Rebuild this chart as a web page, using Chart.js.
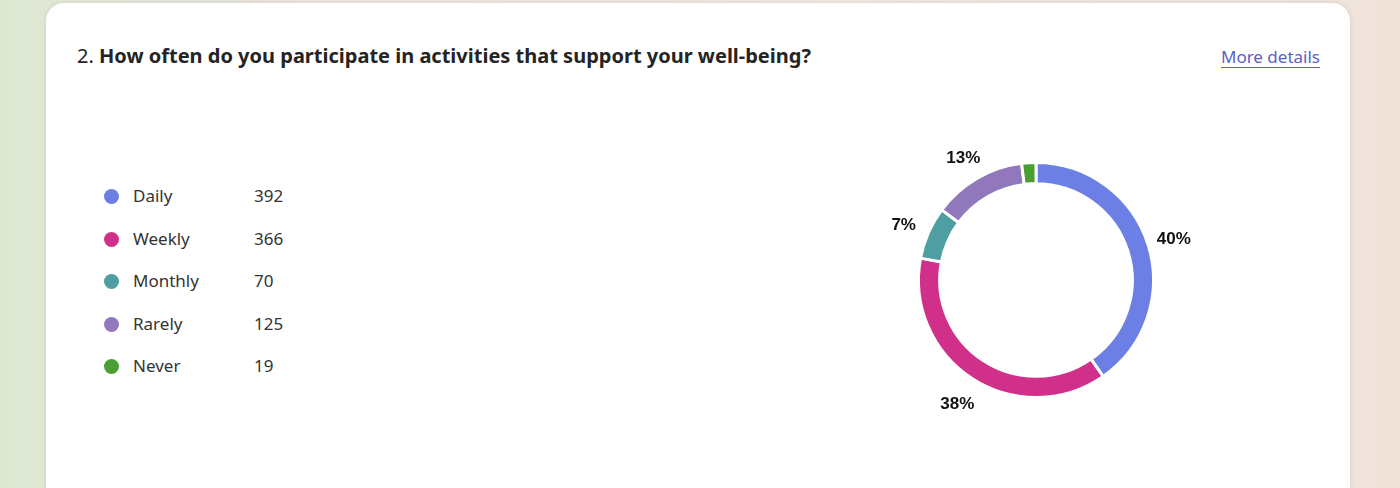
<!DOCTYPE html>
<html>
<head>
<meta charset="utf-8">
<script src="https://cdn.jsdelivr.net/npm/chart.js@4/dist/chart.umd.min.js"></script>
<style>
  html, body { margin: 0; padding: 0; }
  body {
    width: 1400px; height: 488px; overflow: hidden; position: relative;
    background: linear-gradient(90deg, #dde8d2 0%, #ece6dc 20%, #f1e8e0 60%, #f0e3da 100%);
    font-family: "Noto Sans", sans-serif;
  }
  .card {
    position: absolute; left: 46px; top: 3px; width: 1304px; height: 500px;
    background: #fff; border-radius: 18px;
    box-shadow: 0 0 5px rgba(0,0,0,0.1);
  }
  .title {
    position: absolute; left: 31px; top: 39px; font-size: 20px; color: #242424;
    white-space: nowrap;
  }
  .title b { font-weight: 700; }
  .more {
    position: absolute; right: 30px; top: 42px; font-size: 17px; color: #5b5fc7;
    text-decoration: underline; text-underline-offset: 4px;
  }
  .legend { position: absolute; left: 58px; top: 180px; }
  .row { position: relative; height: 42.5px; font-size: 17px; color: #333; }
  .dot { position: absolute; left: 0; top: 6px; width: 15px; height: 15px; border-radius: 50%; }
  .lab { position: absolute; left: 29px; top: 1px; }
  .val { position: absolute; left: 150px; top: 1px; }
  #wrap { position: absolute; left: 856px; top: 100px; width: 360px; height: 360px; }
</style>
</head>
<body>
<div class="card">
  <div class="title">2. <b>How often do you participate in activities that support your well-being?</b></div>
  <div class="more">More details</div>
  <div class="legend" id="legend"></div>
</div>
<div id="wrap"><canvas id="donut"></canvas></div>
<script>
const labels = ["Daily", "Weekly", "Monthly", "Rarely", "Never"];
const counts = [392, 366, 70, 125, 19];
const colors = ["#6b7fe4", "#d0308a", "#4f9fa2", "#9178bd", "#4a9e32"];

const legend = document.getElementById("legend");
labels.forEach((l, i) => {
  const row = document.createElement("div");
  row.className = "row";
  row.innerHTML = `<span class="dot" style="background:${colors[i]}"></span><span class="lab">${l}</span><span class="val">${counts[i]}</span>`;
  legend.appendChild(row);
});

// percent labels outside the ring
const outsideLabels = {
  id: "outsideLabels",
  afterDatasetsDraw(chart) {
    const ctx = chart.ctx;
    const meta = chart.getDatasetMeta(0);
    const total = counts.reduce((a, b) => a + b, 0);
    ctx.save();
    ctx.font = "bold 17px 'Liberation Sans', Arial, sans-serif";
    ctx.fillStyle = "#111";
    ctx.textAlign = "center";
    ctx.textBaseline = "middle";
    meta.data.forEach((arc, i) => {
      const pct = Math.round(counts[i] / total * 100);
      if (pct < 5) return;
      const mid = (arc.startAngle + arc.endAngle) / 2;
      const r = arc.outerRadius + 27;
      ctx.fillText(pct + "%", arc.x + Math.cos(mid) * r, arc.y + Math.sin(mid) * r + 3);
    });
    ctx.restore();
  }
};

new Chart(document.getElementById("donut"), {
  type: "doughnut",
  data: {
    labels,
    datasets: [{
      data: counts,
      backgroundColor: colors,
      borderColor: "#fff",
      borderWidth: 3
    }]
  },
  options: {
    responsive: true,
    maintainAspectRatio: false,
    animation: false,
    cutout: "82%",
    layout: { padding: 61 },
    plugins: { legend: { display: false }, tooltip: { enabled: false } }
  },
  plugins: [outsideLabels]
});
</script>
</body>
</html>
